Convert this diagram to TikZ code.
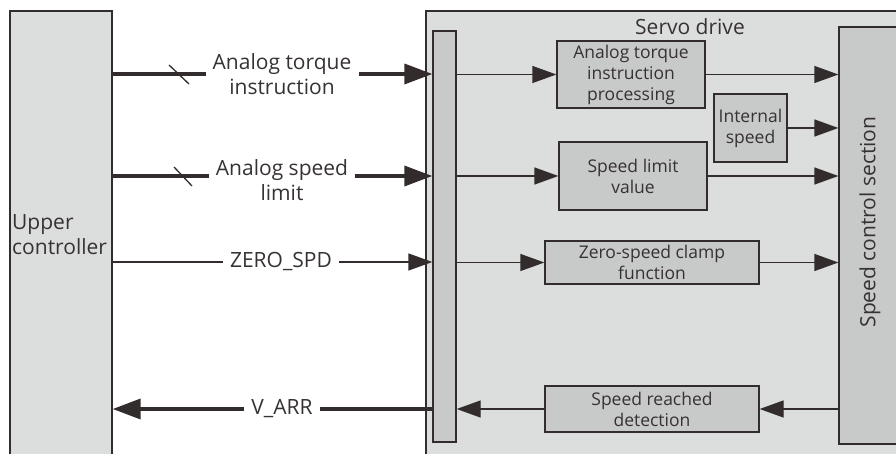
\documentclass[tikz,border=0pt]{standalone}
\usepackage{fontspec}
\setmainfont{Open Sans}
\usetikzlibrary{arrows.meta}
\definecolor{ln}{RGB}{50,44,44}
\definecolor{bgA}{RGB}{220,221,221}
\definecolor{bgB}{RGB}{200,201,201}
\definecolor{tx}{RGB}{55,50,50}
\begin{document}
\begin{tikzpicture}[x=1pt,y=-1pt,
 big/.style={draw=ln,line width=1.3pt,fill=bgA,inner sep=0pt},
 box/.style={draw=ln,line width=1.3pt,fill=bgB,inner sep=0pt,align=center,text=tx,font=\fontsize{17.5}{21}\selectfont},
 lbl/.style={font=\fontsize{21}{25}\selectfont,text=tx,align=center,inner xsep=7pt,inner ysep=0pt},
 bigtxt/.style={font=\fontsize{21}{25}\selectfont,text=tx,inner sep=0pt},
 thin/.style={draw=ln,line width=1.3pt},
 thk/.style={draw=ln,line width=3.6pt},
 tarr/.style={-{Triangle[length=24pt,width=17pt]}},
 barr/.style={-{Triangle[length=28pt,width=20pt]}},
]
\useasboundingbox (0,0) rectangle (896,454);
\clip (0,0) rectangle (896,454);
% big containers
\node[big,minimum width=484pt,minimum height=459pt] (sd) at (668,240.5) {};
\node[big,minimum width=102pt,minimum height=459pt] (uc) at (61,240.5) {};
\node[bigtxt,align=left,anchor=west] (uct) at (12,234.5) {Upper\\controller};
\node[bigtxt] (sdt) at (690,27) {Servo drive};
% inner
\node[box,minimum width=23pt,minimum height=411pt] (bar) at (444.5,236.5) {};
\node[box,minimum width=71pt,minimum height=417pt] (scs) at (874.5,235.5) {};
\node[bigtxt,rotate=90] (scst) at (870,222) {Speed control section};
\node[box,minimum width=148pt,minimum height=67pt] (atip) at (631,74.5) {Analog torque\\instruction\\processing};
\node[box,minimum width=73pt,minimum height=68pt] (is) at (750.5,128) {Internal\\speed};
\node[box,minimum width=148pt,minimum height=68pt] (slv) at (633,176) {Speed limit\\value};
\node[box,minimum width=214pt,minimum height=43pt] (zs) at (652,262.5) {Zero-speed clamp\\function};
\node[box,minimum width=214pt,minimum height=46pt] (srd) at (652,409) {Speed reached\\detection};
% outer labels
\node[lbl] (l1) at (282,74.5) {Analog torque\\instruction};
\node[lbl] (l2) at (282,180) {Analog speed\\limit};
\node[lbl] (l3) at (281,262) {ZERO\_SPD};
\node[lbl] (l4) at (282,409) {V\_ARR};
\coordinate (y1) at (0,74);
\coordinate (y2) at (0,176);
% outer connectors
\draw[thk] (uc.east |- y1) -- (l1.west |- y1);
\draw[thk,barr] (l1.east |- y1) -- (bar.west |- y1);
\draw[thin] (169,65) -- (189,84);
\draw[thk] (uc.east |- y2) -- (l2.west |- y2);
\draw[thk,barr] (l2.east |- y2) -- (bar.west |- y2);
\draw[thin] (174,167) -- (192,186);
\draw[thin] (uc.east |- l3) -- (l3.west);
\draw[thin,tarr] (l3.east) -- (bar.west |- l3);
\draw[thk] (bar.west |- l4) -- (l4.east);
\draw[thk,barr] (l4.west) -- (uc.east |- l4);
% inner connectors
\draw[thin,tarr] (bar.east |- atip) -- (atip.west);
\draw[thin,tarr] (atip.east) -- (scs.west |- atip);
\draw[thin,tarr] (is.east) -- (scs.west |- is);
\draw[thin,tarr] (bar.east |- slv) -- (slv.west);
\draw[thin,tarr] (slv.east) -- (scs.west |- slv);
\draw[thin,tarr] (bar.east |- zs) -- (zs.west);
\draw[thin,tarr] (zs.east) -- (scs.west |- zs);
\draw[thin,tarr] (scs.west |- srd) -- (srd.east);
\draw[thin,tarr] (srd.west) -- (bar.east |- srd);
\end{tikzpicture}
\end{document}
